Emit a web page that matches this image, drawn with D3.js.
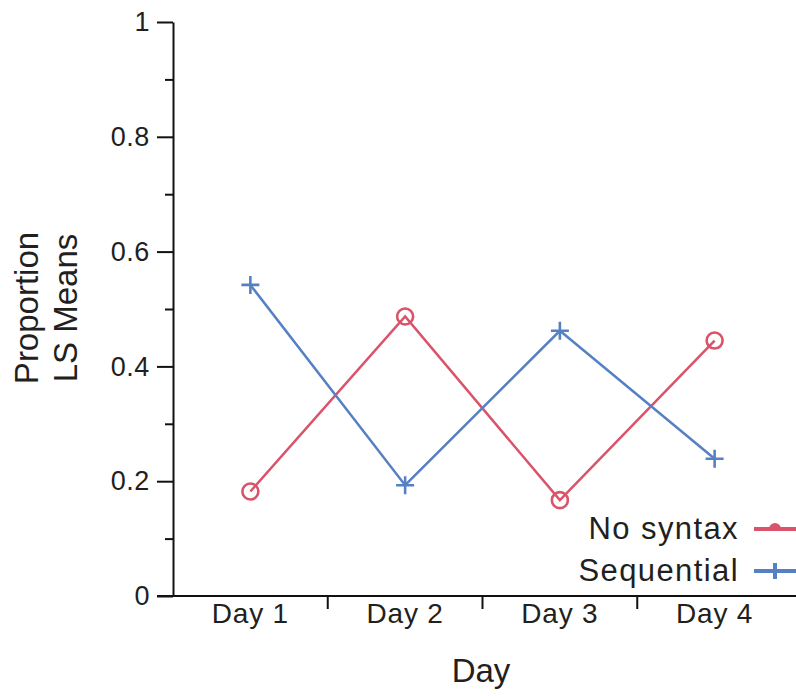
<!DOCTYPE html>
<html><head><meta charset="utf-8">
<script src="https://cdn.jsdelivr.net/npm/d3@7"></script>
<style>
body{margin:0;background:#fff}
text{font-family:"Liberation Sans",Arial,Helvetica,sans-serif;fill:#231f20}
</style>
</head><body>
<svg id="c" width="796" height="696"></svg>
<script>
const days = ["Day 1","Day 2","Day 3","Day 4"];
const noSyntax = [0.182,0.487,0.167,0.445];
const sequential = [0.542,0.193,0.462,0.239];
const yTicks = [0,0.2,0.4,0.6,0.8,1];
const yMinorTicks = [0.1,0.3,0.5,0.7,0.9];
const seriesNames = ["No syntax","Sequential"];
const seriesColors = ["#d9546a","#5680c4"];
const yTitle = ["Proportion","LS Means"];
const xTitle = "Day";

const svg = d3.select("#c");
const x = d3.scaleBand().domain(days).range([173,792]).padding(0);
const y = d3.scaleLinear().domain([0,1]).range([596,22]);

// Y axis major
const ya = svg.append("g").attr("transform","translate(173,0)")
  .call(d3.axisLeft(y).tickValues(yTicks).tickSize(16).tickSizeOuter(0).tickPadding(7).tickFormat(d3.format("~g")));
ya.select(".domain").attr("stroke","#111").attr("stroke-width",2);
ya.selectAll(".tick line").attr("stroke","#111").attr("stroke-width",2);
ya.selectAll(".tick text").attr("font-size",27).attr("letter-spacing","0.6px")
  .attr("font-family","Liberation Sans, Arial, sans-serif").attr("fill","#231f20");
// minor ticks
const ym = svg.append("g").attr("transform","translate(173,0)")
  .call(d3.axisLeft(y).tickValues(yMinorTicks).tickSize(8).tickSizeOuter(0).tickFormat(""));
ym.select(".domain").remove();
ym.selectAll(".tick line").attr("stroke","#111").attr("stroke-width",2);

// X axis line
svg.append("line").attr("x1",157).attr("x2",796).attr("y1",y(0)).attr("y2",y(0))
  .attr("stroke","#111").attr("stroke-width",2);
// boundary ticks
const bounds = days.slice(1).map(d => x(d));
svg.selectAll(".xb").data(bounds).enter().append("line")
  .attr("x1",d=>d).attr("x2",d=>d).attr("y1",y(0)).attr("y2",y(0)+13)
  .attr("stroke","#111").attr("stroke-width",2);
// x labels
svg.selectAll(".xl").data(days).enter().append("text")
  .attr("x",d=>x(d)+x.bandwidth()/2).attr("y",623)
  .attr("text-anchor","middle").attr("font-size",28).attr("letter-spacing","0.8px")
  .text(d=>d);

// titles
svg.append("text").attr("x",481).attr("y",682).attr("text-anchor","middle")
  .attr("font-size",33).text(xTitle);
yTitle.forEach((t,i)=>{
  svg.append("text").attr("transform","rotate(-90)")
    .attr("x",-308).attr("y",38+i*39).attr("text-anchor","middle")
    .attr("font-size",33).text(t);
});

// series
const series = [noSyntax, sequential];
const cx = d => x(d) + x.bandwidth()/2;
const line = d3.line().x(d=>cx(d.day)).y(d=>y(d.v));
series.forEach((vals,si)=>{
  const pts = days.map((d,i)=>({day:d,v:vals[i]}));
  svg.append("path").datum(pts).attr("d",line).attr("fill","none")
    .attr("stroke",seriesColors[si]).attr("stroke-width",2.5);
  if(si===0){
    svg.selectAll(".m0").data(pts).enter().append("circle")
      .attr("cx",d=>cx(d.day)).attr("cy",d=>y(d.v)).attr("r",8)
      .attr("fill","none").attr("stroke",seriesColors[si]).attr("stroke-width",2.6);
  } else {
    svg.selectAll(".m1").data(pts).enter().append("path")
      .attr("transform",d=>`translate(${cx(d.day)},${y(d.v)})`)
      .attr("d","M-9,0H9M0,-9V9").attr("fill","none")
      .attr("stroke",seriesColors[si]).attr("stroke-width",2.6);
  }
});

// legend
const legY = [529,571];
seriesNames.forEach((n,i)=>{
  svg.append("text").attr("x",739).attr("y",legY[i]+10).attr("text-anchor","end")
    .attr("font-size",31).attr("letter-spacing","1.4px").text(n);
  svg.append("line").attr("x1",754).attr("x2",796).attr("y1",legY[i]).attr("y2",legY[i])
    .attr("stroke",seriesColors[i]).attr("stroke-width",4);
  if(i===0){
    svg.append("path").attr("transform",`translate(775,${legY[i]})`)
      .attr("d","M-6,0A6,6 0 0,1 6,0Z").attr("fill",seriesColors[i]);
  } else {
    svg.append("path").attr("transform",`translate(775,${legY[i]})`)
      .attr("d","M0,-8V8").attr("stroke",seriesColors[i]).attr("stroke-width",4);
  }
});
</script>
</body></html>
